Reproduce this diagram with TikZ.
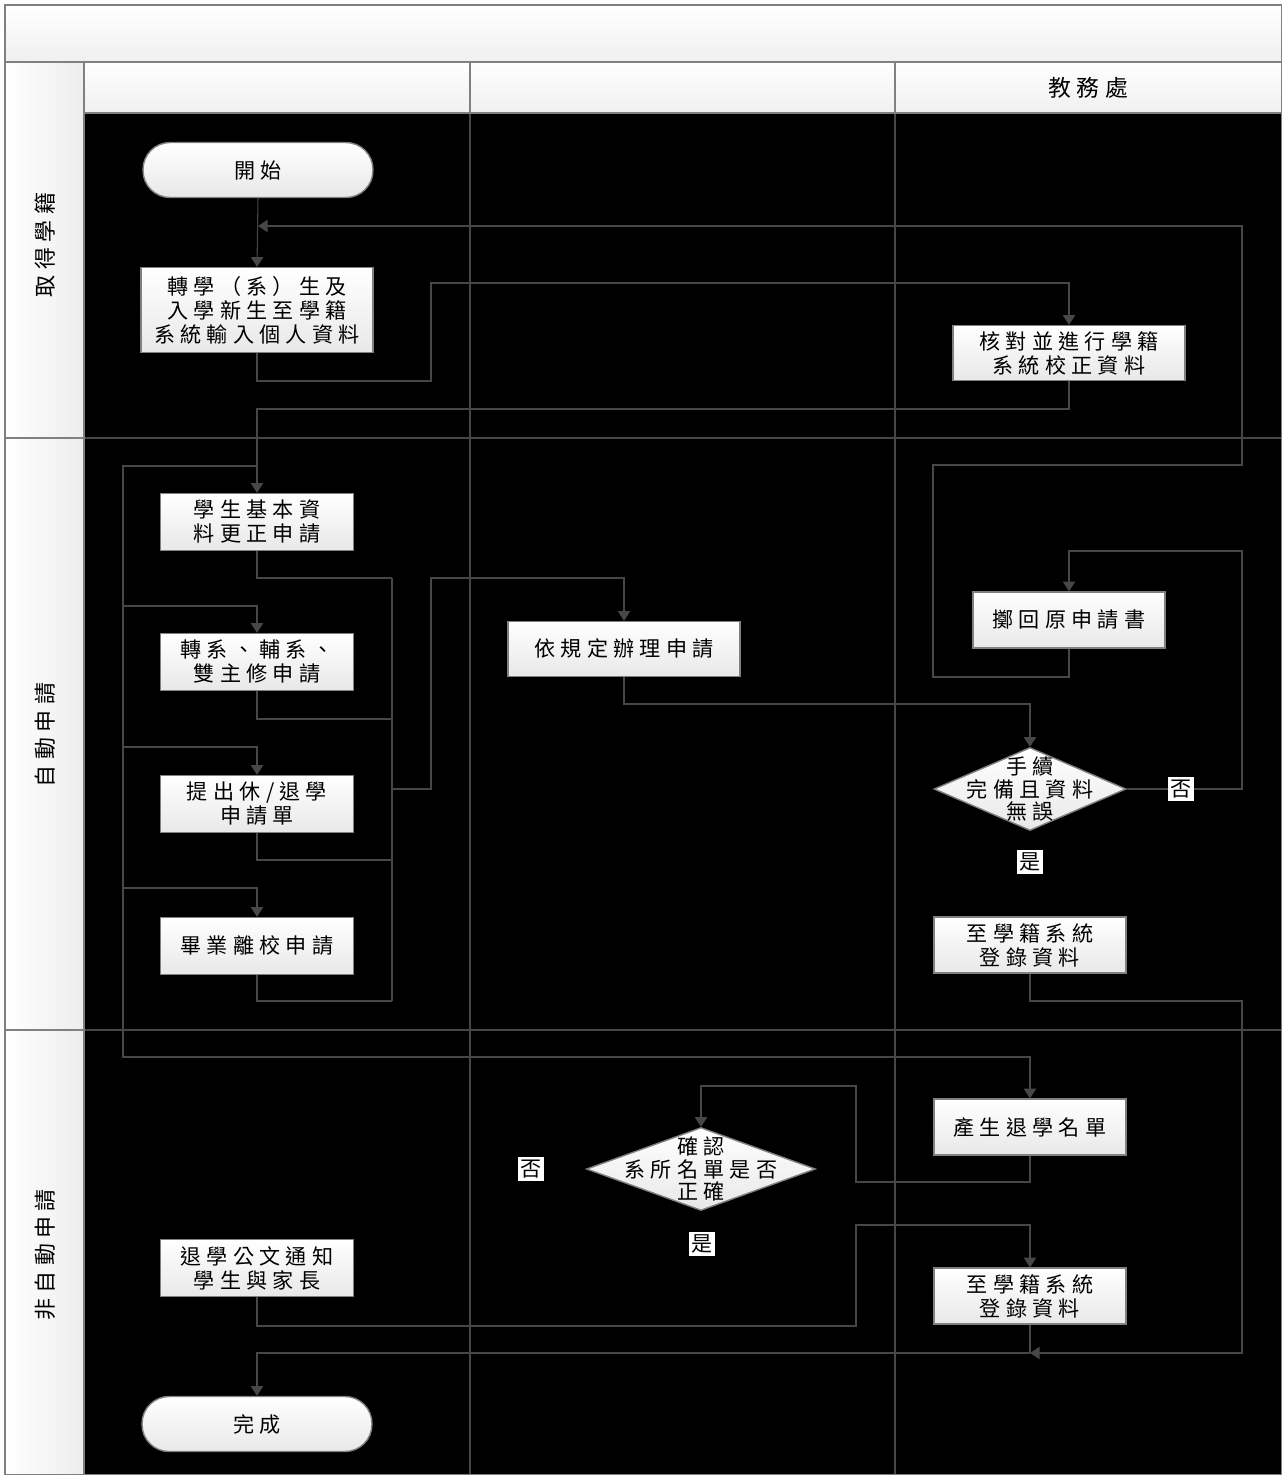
\documentclass[tikz,border=0pt]{standalone}
\usepackage{fontspec}
\newfontfamily\cjk[LetterSpace=25]{Noto Sans CJK TC}
\newfontfamily\cjkplain{Noto Sans CJK TC}
\usetikzlibrary{arrows.meta,shapes.geometric}
\definecolor{linec}{HTML}{474747}
\definecolor{framec}{HTML}{808080}
\definecolor{boxb}{HTML}{808080}
\begin{document}
\begin{tikzpicture}[x=0.02cm,y=-0.02cm,
  box/.style={draw=boxb, line width=0.8pt, top color=white, bottom color=black!9, inner sep=0pt, align=center, font=\cjk\fontsize{12pt}{13.6pt}\selectfont},
  term/.style={box, rounded corners=0.54cm, minimum width=4.6cm, minimum height=1.1cm},
  dia/.style={diamond, draw=boxb, line width=0.8pt, top color=white, bottom color=black!9, inner sep=0pt},
  txt/.style={align=center, inner sep=0pt, font=\cjk\fontsize{12pt}{13pt}\selectfont},
  lab/.style={fill=white, inner sep=1.5pt, font=\cjkplain\fontsize{12pt}{14pt}\selectfont},
  lane/.style={font=\cjk\fontsize{12.5pt}{14pt}\selectfont, rotate=90},
  conn/.style={draw=linec, line width=0.6pt, -{Triangle[width=7pt,length=5.5pt]}},
  wire/.style={draw=linec, line width=0.6pt}
]
\useasboundingbox (0,0) rectangle (1282,1475);
% backgrounds
\shade[top color=white, bottom color=black!6] (5,5) rectangle (1282,62);
\shade[top color=white, bottom color=black!6] (84,62) rectangle (1282,113);
\shade[left color=white, right color=black!7] (5,62) rectangle (84,1475);
\fill[black] (84,113) rectangle (1282,1475);
% body grid
\draw[wire] (470,113) -- (470,1475);
\draw[wire] (895,113) -- (895,1475);
\draw[wire] (84,438) -- (1282,438);
\draw[wire] (84,1030) -- (1282,1030);
% frame
\draw[framec, line width=1pt] (5,5) rectangle (1281.5,1475);
\draw[framec, line width=1pt] (5,62) -- (1282,62);
\draw[framec, line width=1pt] (84,62) -- (84,1475);
\draw[framec, line width=1pt] (84,113) -- (1282,113);
\draw[framec, line width=1pt] (470,62) -- (470,113);
\draw[framec, line width=1pt] (895,62) -- (895,113);
\draw[framec, line width=1pt] (5,438) -- (84,438);
\draw[framec, line width=1pt] (5,1030) -- (84,1030);
% headers
\node[font=\cjk\fontsize{13pt}{15pt}\selectfont] (hdr) at (1088,88) {教務處};
\node[lane] (l1) at (45,245) {取得學籍};
\node[lane] (l2) at (45,735) {自動申請};
\node[lane] (l3) at (45,1255) {非自動申請};
% nodes
\node[term] (start) at (258,170) {開始};
\node[box, minimum width=4.64cm, minimum height=1.7cm] (a1) at (257,310) {轉學（系）生及\\入學新生至學籍\\系統輸入個人資料};
\node[box, minimum width=4.64cm, minimum height=1.1cm] (b1) at (1069,353) {核對並進行學籍\\系統校正資料};
\node[box, minimum width=3.86cm, minimum height=1.14cm] (a2) at (257,522) {學生基本資\\料更正申請};
\node[box, minimum width=3.86cm, minimum height=1.14cm] (a3) at (257,662) {轉系、輔系、\\雙主修申請};
\node[box, minimum width=3.86cm, minimum height=1.14cm] (a4) at (257,804) {提出休/退學\\申請單};
\node[box, minimum width=3.86cm, minimum height=1.14cm] (a5) at (257,946) {畢業離校申請};
\node[box, minimum width=4.64cm, minimum height=1.1cm] (m1) at (624,649) {依規定辦理申請};
\node[box, minimum width=3.84cm, minimum height=1.12cm] (b2) at (1069,620) {擲回原申請書};
\node[dia, minimum width=3.84cm, minimum height=1.66cm] (d1) at (1030,789) {};
\node[txt] (d1t) at (d1) {手續\\完備且資料\\無誤};
\node[box, minimum width=3.84cm, minimum height=1.12cm] (b3) at (1030,945) {至學籍系統\\登錄資料};
\node[box, minimum width=3.84cm, minimum height=1.12cm] (b4) at (1030,1127) {產生退學名單};
\node[dia, minimum width=4.58cm, minimum height=1.66cm] (d2) at (701,1169) {};
\node[txt] (d2t) at (d2) {確認\\系所名單是否\\正確};
\node[box, minimum width=3.84cm, minimum height=1.12cm] (b5) at (1030,1296) {至學籍系統\\登錄資料};
\node[box, minimum width=3.86cm, minimum height=1.14cm] (a6) at (257,1268) {退學公文通知\\學生與家長};
\node[term] (fin) at (257,1424) {完成};
% connectors
\draw[conn] (start.south) -- (a1.north);
\draw[conn] (b2.south) -- (1069,677) -- (933,677) -- (933,465) -- (1242,465) -- (1242,226) -- (258,226);
\draw[conn] (a1.south) -- (257,381) -- (431,381) -- (431,283) -| (b1.north);
\draw[conn] (b1.south) -- (1069,409) -- (257,409) -- (a2.north);
\draw[conn] (257,466) -| (123,1057) -| (b4.north);
\draw[conn] (123,606) -| (a3.north);
\draw[conn] (123,747) -| (a4.north);
\draw[conn] (123,888) -| (a5.north);
\draw[wire] (a2.south) |- (392,578);
\draw[wire] (a3.south) |- (392,719);
\draw[wire] (a4.south) |- (392,860);
\draw[wire] (a5.south) |- (392,1001);
\draw[wire] (392,578) -- (392,1001);
\draw[conn] (392,789) -- (431,789) -- (431,578) -| (m1.north);
\draw[conn] (m1.south) -- (624,704) -| (d1.north);
\draw[conn] (d1.east) -- (1242,789) -- (1242,551) -| (b2.north);
\draw[conn] (b3.south) -- (1030,1001) -- (1242,1001) -- (1242,1353) -- (1030,1353);
\draw[wire] (b5.south) -- (1030,1353);
\draw[conn] (1030,1353) -| (fin.north);
\draw[conn] (a6.south) -- (257,1326) -- (856,1326) -- (856,1225) -| (b5.north);
\draw[conn] (b4.south) -- (1030,1182) -- (856,1182) -- (856,1086) -| (d2.north);
% labels
\node[lab] (no1) at (1181,789) {否};
\node[lab] (yes1) at (1030,862) {是};
\node[lab] (no2) at (531,1169) {否};
\node[lab] (yes2) at (702,1244) {是};
\end{tikzpicture}
\end{document}
